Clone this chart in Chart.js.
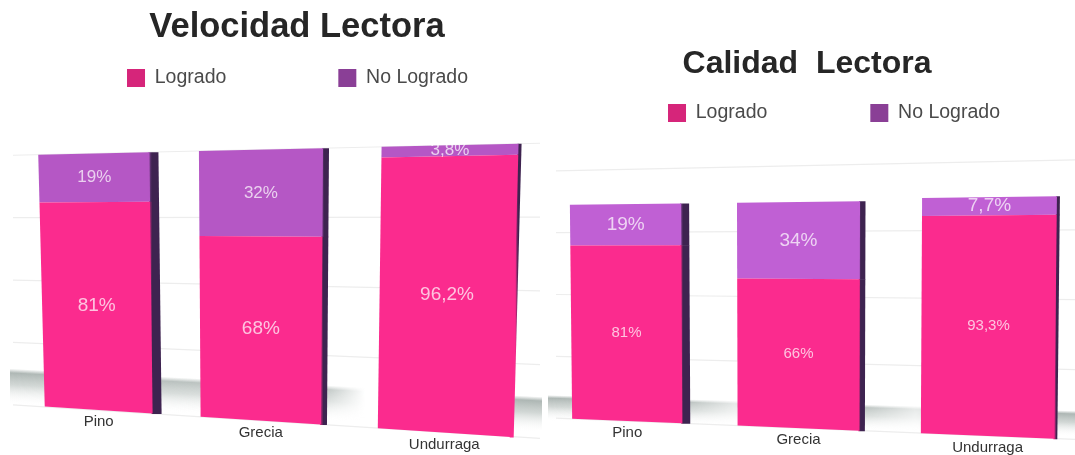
<!DOCTYPE html>
<html><head><meta charset="utf-8">
<script src="https://cdn.jsdelivr.net/npm/chart.js@4"></script>
<style>
html,body{margin:0;padding:0;background:#fff;width:1075px;height:455px;overflow:hidden}
.c{position:absolute;top:0;height:455px}
canvas{filter:blur(0.6px)}
</style></head><body>
<div class="c" style="left:0;width:542px"><canvas id="a"></canvas></div>
<div class="c" style="left:548px;width:527px"><canvas id="b"></canvas></div>
<script>
const categories=['Pino','Grecia','Undurraga'];
const logradoA=[81,68,96.2];
const noLogradoA=[19,32,3.8];
const logradoB=[81,66,93.3];
const noLogradoB=[19,34,7.7];
const FONT='"Liberation Sans", Arial, sans-serif';
const fmt=v=>String(v).replace('.',',')+'%';

function perspective(o){
  function project(chart,xc,side,hw,y){
    const sx=chart.scales.x,sy=chart.scales.y;
    const X0=sx.getPixelForValue(0),XN=sx.getPixelForValue(categories.length-1);
    const t=(xc-X0)/(XN-X0);
    const cx=xc+o.shift+(o.gain-1)*(xc-X0)+o.bow*t*(1-t);
    const X=cx+side*hw*(1+o.kw*t);
    const a=X0+o.shift,b=XN+o.shift+(o.gain-1)*(XN-X0);
    const tc=(X-a)/(b-a);
    const Y=o.cy+(y-o.cy)*(1+o.ky*tc);
    const y100=sy.getPixelForValue(100),y0=sy.getPixelForValue(0);
    const f=(y-y100)/(y0-y100);
    return [o.xv+(X-o.xv)*(1-o.van*f),Y];
  }
  function quad(ctx,p){ctx.beginPath();p.forEach((q,i)=>i?ctx.lineTo(q[0],q[1]):ctx.moveTo(q[0],q[1]));ctx.closePath();ctx.fill();}
  return {
    id:'perspective',
    beforeLayout(chart){
      const L=chart.legend;
      if(L&&!L._patched){L._patched=true;const f=L.fit;
        L.fit=function(){this.maxWidth=2000;f.call(this);this.height=0;this.width=chart.width;};}
    },
    afterLayout(chart){
      const L=chart.legend,T=chart.titleBlock;
      const pad=L.options.labels.padding,fs=L.options.labels.font.size;
      L.left=o.legendX-600;L.right=o.legendX+600;L.top=o.legendY-fs/2-pad;
      const w=T.right-T.left;T.left=o.titleX-w/2;T.right=o.titleX+w/2;
    },
    beforeDraw(chart){
      const ctx=chart.ctx,W=chart.width,s=o.band;
      ctx.save();
      ctx.transform(1,s.slope,0,1,0,0);
      const g=ctx.createLinearGradient(0,s.y,0,s.y+s.h);
      g.addColorStop(0,'rgba(165,175,172,0)');g.addColorStop(0.12,'rgba(165,175,172,0.9)');
      g.addColorStop(0.45,'rgba(190,198,195,0.7)');g.addColorStop(1,'rgba(255,255,255,0)');
      ctx.fillStyle=g;ctx.fillRect(o.band.x0,s.y,W,s.h);
      ctx.restore();
      ctx.save();
      ctx.globalCompositeOperation='destination-out';
      const m=ctx.createLinearGradient(0,0,W,0);
      s.mask.forEach(q=>m.addColorStop(q[0]/W,'rgba(0,0,0,'+(1-q[1])+')'));
      ctx.fillStyle=m;ctx.fillRect(0,0,W,chart.height);
      ctx.restore();
    },
    beforeDatasetsDraw(chart){
      const ctx=chart.ctx,sy=chart.scales.y,a=chart.chartArea;
      const sx=chart.scales.x;
      const X0=sx.getPixelForValue(0)+o.shift,XN=X0+(sx.getPixelForValue(categories.length-1)-sx.getPixelForValue(0))*o.gain;
      ctx.save();ctx.strokeStyle='#ededed';ctx.lineWidth=1.2;
      sy.ticks.forEach(tk=>{
        const y=sy.getPixelForValue(tk.value);
        const Y=x=>o.cy+(y-o.cy)*(1+o.ky*(x-X0)/(XN-X0));
        ctx.beginPath();ctx.moveTo(a.left,Y(a.left));ctx.lineTo(a.right,Y(a.right));ctx.stroke();
      });
      ctx.restore();
    },
    beforeDatasetDraw(chart,args){
      const ctx=chart.ctx,ds=chart.data.datasets[args.index],n=categories.length;
      args.meta.data.forEach((el,j)=>{
        const hw=el.width/2;
        const tl=project(chart,el.x,-1,hw,el.y),tr=project(chart,el.x,1,hw,el.y);
        const bl=project(chart,el.x,-1,hw,el.base),br=project(chart,el.x,1,hw,el.base);
        const side=o.side[0]+(o.side[1]-o.side[0])*j/(n-1);
        const g=ctx.createLinearGradient(tr[0]-3,0,tr[0]+side,0);
        g.addColorStop(0,ds.backgroundColor);g.addColorStop(0.45,o.dark);g.addColorStop(1,o.dark);
        ctx.save();
        ctx.fillStyle=g;
        quad(ctx,[[tr[0]-1,tr[1]],[tr[0]+side,tr[1]],[br[0]+side,br[1]+0.5],[br[0]-1,br[1]+0.5]]);
        ctx.fillStyle=ds.backgroundColor;
        quad(ctx,[tl,tr,br,bl]);
        ctx.restore();
      });
      return false;
    },
    afterDatasetsDraw(chart){
      const ctx=chart.ctx;
      chart.data.datasets.forEach((d,i)=>{
        chart.getDatasetMeta(i).data.forEach((el,j)=>{
          const p=project(chart,el.x,0,0,(el.y+el.base)/2);
          ctx.save();ctx.fillStyle='rgba(255,255,255,0.72)';
          ctx.font=d.labelSize+'px '+FONT;ctx.textAlign='center';ctx.textBaseline='middle';
          ctx.fillText(fmt(d.data[j]),p[0],p[1]);ctx.restore();
        });
      });
      const sx=chart.scales.x,sy=chart.scales.y;
      categories.forEach((c,j)=>{
        const p=project(chart,sx.getPixelForValue(j),0,0,sy.getPixelForValue(0));
        ctx.save();ctx.fillStyle='#333';ctx.font='15px '+FONT;ctx.textAlign='center';ctx.textBaseline='middle';
        ctx.fillText(c,p[0],p[1]+o.tickGap);ctx.restore();
      });
    }
  };
}
function make(id,title,lo,no,o){
  new Chart(document.getElementById(id),{
    type:'bar',
    data:{labels:categories,datasets:[
      {label:'Logrado',data:lo,backgroundColor:'#FB2B8E',labelSize:o.sizeLo,stack:'s',borderWidth:0},
      {label:'No Logrado',data:no,backgroundColor:o.purple,labelSize:o.sizeNo,stack:'s',borderWidth:0}
    ]},
    plugins:[perspective(o)],
    options:{responsive:true,maintainAspectRatio:false,animation:false,
      layout:{padding:o.padding},
      datasets:{bar:{categoryPercentage:o.cat,barPercentage:1}},
      plugins:{
        title:{display:true,text:title,color:'#262626',font:{family:FONT,size:o.titleSize,weight:'bold'},padding:o.titlePad},
        legend:{position:'top',labels:{boxWidth:18,boxHeight:18,padding:o.legPad,color:'#444',font:{family:FONT,size:19.5},
          generateLabels(c){return c.data.datasets.map((d,i)=>({text:d.label,fillStyle:i?'#8A3F96':'#D6257A',fontColor:'#4a4a4a',strokeStyle:'transparent',lineWidth:0,datasetIndex:i}));}}},
        tooltip:{enabled:false}
      },
      scales:{
        x:{stacked:true,display:true,grid:{display:false},border:{display:false},ticks:{display:false}},
        y:{stacked:true,min:0,max:o.max,grid:{display:false},border:{display:false},ticks:{display:false,stepSize:o.step}}
      }
    }
  });
}
make('a','Velocidad Lectora',logradoA,noLogradoA,{
  padding:{left:5,right:2,top:0,bottom:37},cat:0.633,titleSize:34.5,titlePad:{top:7,bottom:105},
  legPad:112,legendX:297.5,legendY:78,titleX:297,max:100,step:25,sizeLo:19,sizeNo:17,purple:'#B557C5',dark:'#3E2350',
  shift:-7,gain:1.014,bow:-44,kw:0.232,ky:0.12,cy:221,van:0.03,xv:255,side:[9,3],tickGap:12,
  band:{x0:10,y:368,h:36,slope:0.053,mask:[[10,1],[170,.85],[330,.7],[365,0],[378,0],[520,1]]}
});
make('b','Calidad  Lectora',logradoB,noLogradoB,{
  padding:{left:0,right:0,top:0,bottom:26},cat:0.643,titleSize:32,titlePad:{top:45,bottom:86},
  legPad:103,legendX:286,legendY:113,titleX:259,max:116,step:29,sizeLo:15,sizeNo:19,purple:'#C060D4',dark:'#3E2350',
  shift:-17,gain:1.052,bow:-36,kw:0.212,ky:0.09,cy:255,van:0.01,xv:250,side:[8,3],tickGap:12,
  band:{x0:0,y:395,h:26,slope:0.03,mask:[[0,1],[142,.8],[187,.3],[318,.8],[367,.3],[512,1]]}
});
</script>
</body></html>
